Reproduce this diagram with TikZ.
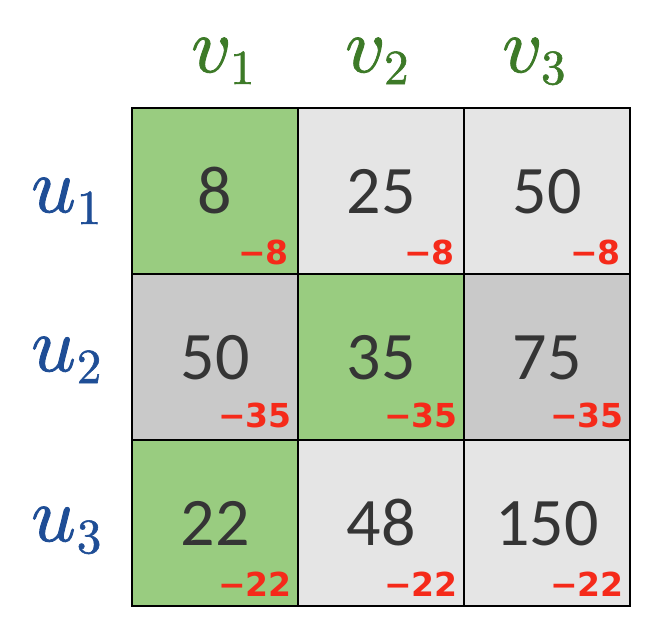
\documentclass[tikz,border=0pt]{standalone}
\usepackage{fontspec}
\newfontfamily\numfont{Carlito}
\newfontfamily\redfont{DejaVu Sans}
\newfontfamily\labfont[FakeBold=1.2]{Latin Modern Math}
\definecolor{cgreen}{HTML}{99CC80}
\definecolor{clight}{HTML}{E5E5E5}
\definecolor{cdark}{HTML}{C9C9C9}
\definecolor{cnum}{HTML}{353535}
\definecolor{cred}{HTML}{F52A1A}
\definecolor{vgreen}{HTML}{3D7A28}
\definecolor{ublue}{HTML}{1F4E96}
\newcommand{\labsub}[2]{#1\kern1pt\raisebox{-12pt}{\fontsize{49}{50}\selectfont #2}}
\begin{document}
\begin{tikzpicture}[x=1pt,y=-1pt,
  cell/.style={draw=black, line width=1.6pt, minimum size=166pt, inner sep=0pt, outer sep=0pt},
  num/.style={inner sep=0pt, anchor=base, text=cnum, font=\numfont\fontsize{68}{70}\selectfont},
  redlab/.style={inner sep=0pt, anchor=base east, text=cred, font=\redfont\bfseries\fontsize{33}{35}\selectfont},
  vlab/.style={inner sep=0pt, anchor=base west, text=vgreen, font=\labfont\fontsize{78}{80}\selectfont},
  ulab/.style={inner sep=0pt, anchor=base west, text=ublue, font=\labfont\fontsize{78}{80}\selectfont}]
\useasboundingbox (0,0) rectangle (664,635);
% cells
\node[cell, fill=cgreen] (c11) at (215,191) {};
\node[cell, fill=clight] (c12) at (381,191) {};
\node[cell, fill=clight] (c13) at (547,191) {};
\node[cell, fill=cdark]  (c21) at (215,357) {};
\node[cell, fill=cgreen] (c22) at (381,357) {};
\node[cell, fill=cdark]  (c23) at (547,357) {};
\node[cell, fill=cgreen] (c31) at (215,523) {};
\node[cell, fill=clight] (c32) at (381,523) {};
\node[cell, fill=clight] (c33) at (547,523) {};
% numbers
\node[num] (n11) at ([yshift=-22pt]c11.center) {8};
\node[num] (n12) at ([yshift=-22pt]c12.center) {25};
\node[num] (n13) at ([yshift=-22pt]c13.center) {50};
\node[num] (n21) at ([yshift=-22pt]c21.center) {50};
\node[num] (n22) at ([yshift=-22pt]c22.center) {35};
\node[num] (n23) at ([yshift=-22pt]c23.center) {75};
\node[num] (n31) at ([yshift=-22pt]c31.center) {22};
\node[num] (n32) at ([yshift=-22pt]c32.center) {48};
\node[num] (n33) at ([yshift=-22pt]c33.center) {150};
% red labels
\node[redlab] (r11) at ([xshift=-9pt,yshift=10pt]c11.south east) {−8};
\node[redlab] (r12) at ([xshift=-9pt,yshift=10pt]c12.south east) {−8};
\node[redlab] (r13) at ([xshift=-9pt,yshift=10pt]c13.south east) {−8};
\node[redlab] (r21) at ([xshift=-6pt,yshift=13pt]c21.south east) {−35};
\node[redlab] (r22) at ([xshift=-6pt,yshift=13pt]c22.south east) {−35};
\node[redlab] (r23) at ([xshift=-6pt,yshift=13pt]c23.south east) {−35};
\node[redlab] (r31) at ([xshift=-6pt,yshift=10pt]c31.south east) {−22};
\node[redlab] (r32) at ([xshift=-6pt,yshift=10pt]c32.south east) {−22};
\node[redlab] (r33) at ([xshift=-6pt,yshift=10pt]c33.south east) {−22};
% column labels
\node[vlab] (v1) at (191,72) {\labsub{𝑣}{1}};
\node[vlab] (v2) at (345,72) {\labsub{𝑣}{2}};
\node[vlab] (v3) at (502,72) {\labsub{𝑣}{3}};
% row labels
\node[ulab] (u1) at (31,212) {\labsub{𝑢}{1}};
\node[ulab] (u2) at (31,371) {\labsub{𝑢}{2}};
\node[ulab] (u3) at (31,541) {\labsub{𝑢}{3}};
\end{tikzpicture}
\end{document}
